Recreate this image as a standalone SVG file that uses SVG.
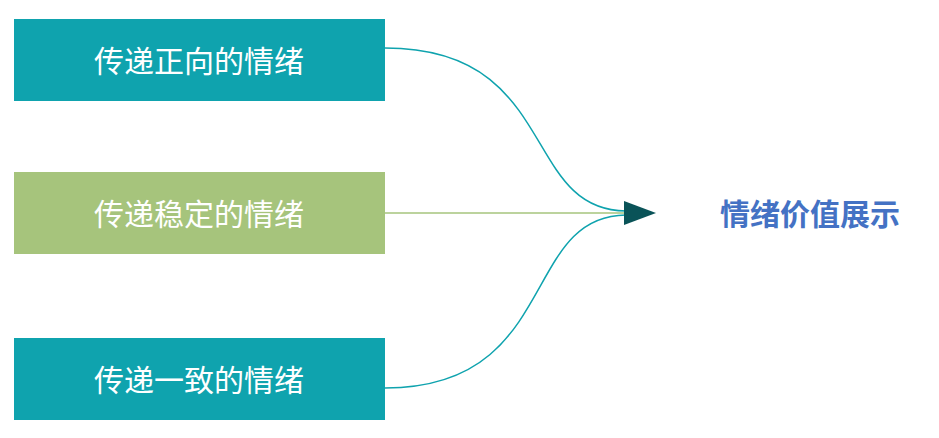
<svg xmlns="http://www.w3.org/2000/svg" width="939" height="438" viewBox="0 0 939 438">
<style>
.box{stroke:none}
.t{font-family:"Noto Sans CJK SC","Noto Sans",sans-serif;font-size:30px;fill:#fff;text-anchor:middle;dominant-baseline:central}
.c{fill:none;stroke-width:1.5}
</style>
<rect width="939" height="438" fill="#fff"/>
<g id="connectors">
<path class="c" stroke="#0fa3ae" d="M385,48 C560,48 520,210 626,211"/>
<path class="c" stroke="#a6c47c" d="M385,213 L626,213"/>
<path class="c" stroke="#0fa3ae" d="M385,388 C560,388 520,216 626,215"/>
<polygon points="624,201 656,213 624,225" fill="#0a5358"/>
</g>
<g id="n1"><rect class="box" x="14" y="19" width="371" height="82" fill="#0fa3ae"/><text class="t" x="199" y="59">传递正向的情绪</text></g>
<g id="n2"><rect class="box" x="14" y="172" width="371" height="82" fill="#a6c47c"/><text class="t" x="199" y="212">传递稳定的情绪</text></g>
<g id="n3"><rect class="box" x="14" y="338" width="371" height="82" fill="#0fa3ae"/><text class="t" x="199" y="378">传递一致的情绪</text></g>
<g id="n4"><text x="810" y="212" style="font-family:'Noto Sans CJK SC',sans-serif;font-size:30px;font-weight:bold;fill:#4472c4;text-anchor:middle;dominant-baseline:central">情绪价值展示</text></g>
</svg>
